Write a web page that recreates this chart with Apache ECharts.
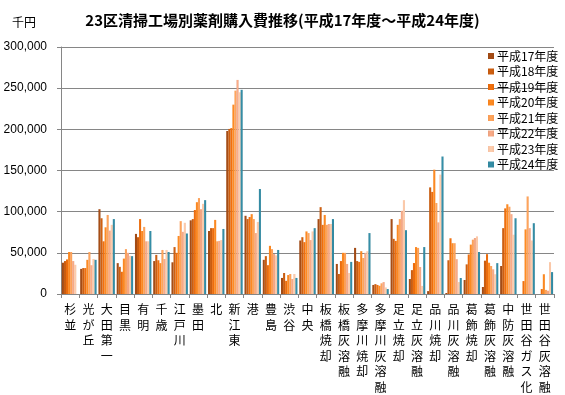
<!DOCTYPE html>
<html><head><meta charset="utf-8">
<script src="https://cdn.jsdelivr.net/npm/echarts@6/dist/echarts.min.js"></script>
<style>html,body{margin:0;padding:0;background:#fff}#c{width:565px;height:395px}</style>
</head><body><div id="c"></div>
<script>
const categories = ["杉並","光が丘","大田第一","目黒","有明","千歳","江戸川","墨田","北","新江東","港","豊島","渋谷","中央","板橋焼却","板橋灰溶融","多摩川焼却","多摩川灰溶融","足立焼却","足立灰溶融","品川焼却","品川灰溶融","葛飾焼却","葛飾灰溶融","中防灰溶融","世田谷ガス化","世田谷灰溶融"];
const seriesNames = ["平成17年度","平成18年度","平成19年度","平成20年度","平成21年度","平成22年度","平成23年度","平成24年度"];
const h17 = [38000,30500,103000,37500,73000,40000,38500,89500,76500,198000,95000,41500,19500,65000,91000,36500,56000,11000,91000,18200,3500,1200,17000,8500,34000,0,0];
const h18 = [40000,31500,92000,33000,69000,47500,57000,91000,80000,200500,91000,46000,25500,69000,105500,24300,40000,12000,67000,29000,129500,41000,36000,40500,80000,0,0];
const h19 = [42000,31500,64000,27000,91000,41000,50000,102000,80000,201500,93500,35000,16000,63000,84000,40000,39000,11000,64500,37600,124000,67700,48000,48400,104000,15700,6000];
const h20 = [51000,41500,81000,43000,76500,37500,70500,111500,90000,230000,97000,58500,23000,76000,96000,50000,52000,10000,84000,57000,151000,61700,60000,38000,109000,78500,24000];
const h21 = [51000,51000,96000,54500,81500,53500,88500,116500,64000,247000,91000,54500,24300,74000,84000,50000,43700,13000,91000,56000,110500,61700,66000,34000,106000,118500,5000];
const h22 = [40000,35000,77000,50000,64000,42500,75500,103000,64500,260000,74000,48500,18200,65500,85000,36500,50000,14500,101000,32800,87000,42300,68000,30000,97000,80000,4000];
const h23 = [35500,42500,84000,46500,64000,53500,86500,109500,65500,245000,87500,47000,24300,76000,85000,25500,52000,8000,114000,9800,145000,14500,70000,24000,72000,65000,38700];
const h24 = [0,41500,91000,46000,76500,51000,73500,114000,79000,248000,127500,53500,19500,80000,91000,39000,74000,6000,77500,57000,167000,19400,51000,37500,92000,86000,26600];
const yTicks = [0,50000,100000,150000,200000,250000,300000];
const seriesData = [h17,h18,h19,h20,h21,h22,h23,h24];
const colors = ["#9c4814","#c2590f","#e2680c","#f5821f","#f79a55","#eaa07e","#f5c0a2","#31859c"];
const grad = (c) => new echarts.graphic.LinearGradient(0,0,1,0,[{offset:0,color:c},{offset:0.5,color:echarts.color.lift(c,-0.08)},{offset:1,color:c}]);
const chart = echarts.init(document.getElementById('c'), null, {renderer:'canvas'});
const cjk = '"Noto Sans CJK JP", sans-serif';
chart.setOption({
  animation:false,
  color: colors,
  title:[{text:"23区清掃工場別薬剤購入費推移(平成17年度～平成24年度)",left:'center',top:13,textStyle:{fontFamily:cjk,fontSize:15,fontWeight:'bold',color:'#000'},padding:0},
         {text:"千円",left:12,top:16,textStyle:{fontFamily:cjk,fontSize:12,fontWeight:'normal',color:'#000'},padding:0}],
  legend:{orient:'vertical',left:483,top:45,itemWidth:6,itemHeight:6,itemGap:3.5,icon:'rect',
    textStyle:{fontFamily:cjk,fontSize:12,color:'#000',lineHeight:12,padding:[0,0,0,-2]},data:seriesNames},
  grid:{left:61,right:11,top:47,bottom:101,containLabel:false},
  xAxis:{type:'category',data:categories,
    axisLine:{lineStyle:{color:'#868686'}},
    axisTick:{show:true,alignWithLabel:false,length:4,lineStyle:{color:'#868686'}},
    axisLabel:{interval:0,fontFamily:cjk,fontSize:12,color:'#000',lineHeight:15.5,margin:8,
      formatter:(v)=>v.split('').join('\n')}},
  yAxis:{type:'value',min:0,max:300000,interval:50000,
    axisLine:{show:true,lineStyle:{color:'#868686'}},
    axisTick:{show:true,length:4,lineStyle:{color:'#868686'}},
    splitLine:{lineStyle:{color:'#868686',width:1}},
    axisLabel:{fontFamily:'"Liberation Sans", Arial, sans-serif',fontSize:12,color:'#000',margin:14,
      formatter:(v)=>v.toLocaleString('en-US')}},
  series: seriesData.map((d,i)=>({name:seriesNames[i],type:'bar',data:d,barGap:'0%',barCategoryGap:'10%',
    itemStyle:{color:grad(colors[i])}}))
});
</script></body></html>
